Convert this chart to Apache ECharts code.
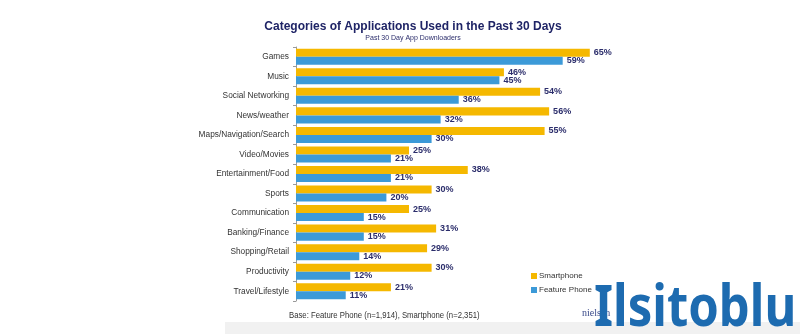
<!DOCTYPE html>
<html>
<head>
<meta charset="utf-8">
<script src="https://cdn.jsdelivr.net/npm/echarts@6/dist/echarts.min.js"></script>
<style>html,body{margin:0;padding:0;background:#fff;}#c{width:800px;height:334px;}</style>
</head>
<body>
<div id="c"></div>
<script>
const categories = ['Games','Music','Social Networking','News/weather','Maps/Navigation/Search','Video/Movies','Entertainment/Food','Sports','Communication','Banking/Finance','Shopping/Retail','Productivity','Travel/Lifestyle'];
const smartphone = [65,46,54,56,55,25,38,30,25,31,29,30,21];
const featurePhone = [59,45,36,32,30,21,21,20,15,15,14,12,11];
const seriesNames = ['Smartphone','Feature Phone'];

const FONT = '"Liberation Sans", Arial, sans-serif';
const chart = echarts.init(document.getElementById('c'), null, {renderer:'canvas'});
const labelStyle = {show:true, position:'right', distance:4, formatter:'{c}%', color:'#2b2d6b', fontWeight:'bold', fontSize:9, fontFamily:FONT};
chart.setOption({
  animation:false,
  backgroundColor:'#fff',
  title:{
    text:'Categories of Applications Used in the Past 30 Days',
    subtext:'Past 30 Day App Downloaders',
    left:408, top:16, textAlign:'center',
    itemGap:2,
    textStyle:{fontFamily:FONT, fontSize:12, fontWeight:'bold', color:'#1f2466'},
    subtextStyle:{fontFamily:FONT, fontSize:7, color:'#2b2d6b'}
  },
  legend:{
    orient:'vertical', left:526, top:267, itemWidth:6, itemHeight:6, itemGap:6,
    icon:'rect',
    textStyle:{fontFamily:FONT, fontSize:8, color:'#333', padding:[0,0,0,-3]},
    data:seriesNames
  },
  grid:{left:296, top:47, width:452, height:254, containLabel:false},
  xAxis:{type:'value', min:0, max:100, show:false},
  yAxis:{
    type:'category', data:categories, inverse:true,
    axisLine:{show:true, lineStyle:{color:'#9a9a9a', width:1}},
    axisTick:{show:true, length:3, lineStyle:{color:'#9a9a9a'}},
    axisLabel:{fontFamily:FONT, fontSize:8.3, color:'#333', margin:7}
  },
  series:[
    {name:seriesNames[0], type:'bar', data:smartphone, barGap:'0%', barCategoryGap:'18%', itemStyle:{color:'#f5b800'}, label:labelStyle},
    {name:seriesNames[1], type:'bar', data:featurePhone, itemStyle:{color:'#3c9ad8'}, label:labelStyle}
  ],
  graphic:[
    {type:'rect', left:225, top:322, shape:{width:575, height:12}, style:{fill:'#f1f1f1'}, silent:true, z:-1},
    {type:'text', x:289, y:311, scaleX:0.86, style:{text:'Base: Feature Phone (n=1,914), Smartphone (n=2,351)', font:'9px '+FONT, fill:'#333'}},
    {type:'text', x:582, y:308, style:{text:'nielsen', font:'10px "Liberation Serif", serif', fill:'#3a4a8a'}},
    {type:'text', x:594, y:281, scaleX:0.86, style:{text:'Ilsitoblu', font:'bold 57px "Noto Sans", sans-serif', fill:'#1d6bb0'}, z:10}
  ]
});
</script>
</body>
</html>
